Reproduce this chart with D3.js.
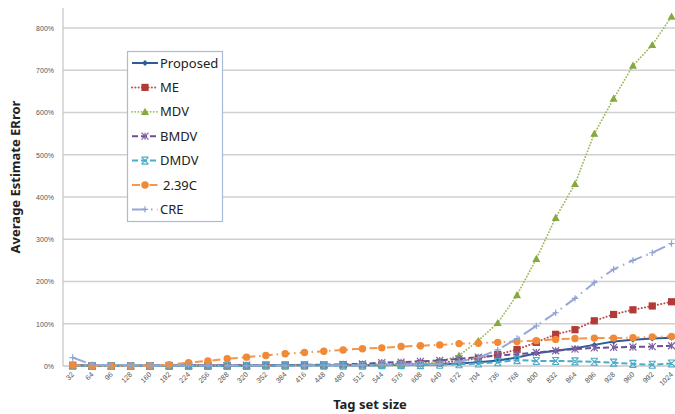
<!DOCTYPE html>
<html>
<head>
<meta charset="utf-8">
<script src="https://cdn.jsdelivr.net/npm/d3@7"></script>
<style>
  body { margin: 0; background: #fff; }
  svg { display: block; }
</style>
</head>
<body>
<script>
const width = 675;
const height = 414;

const tagSizes = [32, 64, 96, 128, 160, 192, 224, 256, 288, 320, 352, 384, 416, 448, 480, 512,
  544, 576, 608, 640, 672, 704, 736, 768, 800, 832, 864, 896, 928, 960, 992, 1024];

const yTicks = [0, 100, 200, 300, 400, 500, 600, 700, 800];

const seriesNames = ["Proposed", "ME", "MDV", "BMDV", "DMDV", "2.39C", "CRE"];

const proposed = [2, 1, 1, 1, 1, 1, 1, 1, 1, 1, 1, 2, 2, 2, 2, 2, 2, 3, 3, 4, 6, 9, 13, 20, 30, 36, 42, 50, 58, 62, 65, 67];
const me = [1, 0, 0, 0, 0, 1, 1, 1, 1, 1, 2, 2, 2, 2, 3, 3, 4, 5, 6, 8, 12, 18, 27, 39, 56, 75, 86, 107, 122, 133, 142, 152];
const mdv = [1, 0, 0, 0, 0, 1, 1, 1, 1, 1, 1, 1, 2, 2, 2, 2, 3, 4, 5, 10, 25, 60, 102, 168, 254, 351, 431, 550, 633, 711, 760, 827];
const bmdv = [1, 0, 0, 0, 1, 1, 1, 1, 1, 2, 2, 2, 3, 3, 4, 5, 8, 9, 11, 13, 17, 21, 25, 28, 32, 36, 40, 43, 44, 45, 46, 48];
const dmdv = [1, 0, 0, 0, 0, 0, 0, 0, 0, 0, 1, 1, 1, 1, 1, 1, 2, 2, 2, 3, 4, 6, 9, 14, 12, 12, 11, 10, 8, 5, 3, 6];
const c239 = [2, 0, 0, 0, 1, 3, 8, 12, 17, 21, 25, 29, 32, 35, 38, 41, 43, 46, 48, 50, 53, 54, 56, 58, 60, 63, 65, 66, 66, 67, 69, 70];
const cre = [20, 3, 1, 1, 1, 1, 1, 1, 1, 1, 1, 1, 1, 2, 2, 2, 3, 3, 4, 5, 10, 20, 38, 65, 95, 126, 160, 197, 229, 250, 268, 290];

const seriesValues = [proposed, me, mdv, bmdv, dmdv, c239, cre];

const styles = {
  "Proposed": { color: "#2f5b9a", dash: null, width: 2, marker: "diamond", mcolor: "#2f5b9a", msize: 3 },
  "ME": { color: "#c0504d", dash: "0.1 3.2", width: 2, marker: "square", mcolor: "#b23a37", msize: 3.6 },
  "MDV": { color: "#9bbb59", dash: "0.1 3", width: 1.8, marker: "triangle", mcolor: "#86a83c", msize: 4 },
  "BMDV": { color: "#6a4f96", dash: "6 3", width: 2, marker: "star", mcolor: "#8064a2", msize: 3.5 },
  "DMDV": { color: "#4aacc6", dash: "6 3", width: 2, marker: "ibeam", mcolor: "#4aacc6", msize: 3.5 },
  "2.39C": { color: "#f79646", dash: "8 4 1.5 4", width: 2, marker: "circle", mcolor: "#f08a36", msize: 3.7 },
  "CRE": { color: "#95a8d8", dash: "14 5 1.5 5", width: 2, marker: "plus", mcolor: "#8ea2d4", msize: 3.2 }
};

const margin = { left: 63, top: 8, bottom: 366 };
const band = 19.32;

const x = d3.scaleBand()
  .domain(tagSizes)
  .range([margin.left, margin.left + band * tagSizes.length])
  .padding(0);

const y = d3.scaleLinear()
  .domain([0, 848])
  .range([margin.bottom, margin.bottom - 848 * 0.4225]);

const svg = d3.select("body")
  .append("svg")
  .attr("width", width)
  .attr("height", height)
  .attr("font-family", "'Noto Sans', 'Open Sans', sans-serif");

// gridlines
svg.append("g")
  .selectAll("line")
  .data(yTicks.slice(1))
  .join("line")
  .attr("x1", margin.left)
  .attr("x2", width)
  .attr("y1", d => y(d))
  .attr("y2", d => y(d))
  .attr("stroke", "#d0d0d0")
  .attr("stroke-width", 1.4);

// y axis
const yAxis = svg.append("g")
  .attr("transform", `translate(${margin.left},0)`)
  .call(d3.axisLeft(y).tickValues(yTicks).tickSize(0).tickPadding(9).tickFormat(d => d + "%"));
yAxis.select(".domain").attr("stroke", "#c8c8c8").attr("stroke-width", 1.3)
  .attr("d", `M0,${margin.top}V${margin.bottom}`);
yAxis.selectAll("text")
  .attr("font-size", "7px")
  .attr("fill", "#555")
  .attr("font-family", "'Liberation Sans Narrow', 'Liberation Sans', sans-serif");

// x axis
const xAxis = svg.append("g")
  .attr("transform", `translate(0,${margin.bottom})`)
  .call(d3.axisBottom(x).tickSize(0).tickPadding(0));
xAxis.select(".domain").attr("stroke", "#c8c8c8").attr("stroke-width", 1.3)
  .attr("d", `M${margin.left},0H${width}`);
xAxis.selectAll("text")
  .attr("font-size", "7.2px")
  .attr("fill", "#555")
  .attr("font-family", "'Liberation Sans Narrow', 'Liberation Sans', sans-serif")
  .attr("text-anchor", "end")
  .attr("dy", null)
  .attr("y", 0)
  .attr("transform", "translate(2,9) rotate(-45)");

// axis titles
svg.append("text")
  .attr("transform", `translate(20,177) rotate(-90)`)
  .attr("text-anchor", "middle")
  .attr("font-size", "13px")
  .attr("font-weight", "bold")
  .attr("fill", "#222")
  .text("Average Estimate ERror");

svg.append("text")
  .attr("x", 370)
  .attr("y", 409)
  .attr("text-anchor", "middle")
  .attr("font-size", "13px")
  .attr("font-weight", "bold")
  .attr("fill", "#222")
  .text("Tag set size");

function drawMarker(g, type, s, color) {
  if (type === "diamond") {
    g.append("path").attr("d", `M0,${-s}L${s},0L0,${s}L${-s},0Z`).attr("fill", color);
  } else if (type === "square") {
    g.append("rect").attr("x", -s).attr("y", -s).attr("width", 2 * s).attr("height", 2 * s).attr("fill", color);
  } else if (type === "triangle") {
    g.append("path").attr("d", `M0,${-s}L${s},${s * 0.8}L${-s},${s * 0.8}Z`).attr("fill", color);
  } else if (type === "circle") {
    g.append("circle").attr("r", s).attr("fill", color);
  } else if (type === "star") {
    g.append("path").attr("d", `M${-s},${-s}L${s},${s}M${-s},${s}L${s},${-s}M0,${-s}V${s}`)
      .attr("stroke", color).attr("stroke-width", 1.2).attr("fill", "none");
  } else if (type === "ibeam") {
    g.append("path").attr("d", `M${-s},${-s}L${s},${s}M${-s},${s}L${s},${-s}M${-s},${-s}H${s}M${-s},${s}H${s}`)
      .attr("stroke", color).attr("stroke-width", 1.1).attr("fill", "none");
  } else if (type === "plus") {
    g.append("path").attr("d", `M${-s},0H${s}M0,${-s}V${s}`)
      .attr("stroke", color).attr("stroke-width", 1.2).attr("fill", "none");
  }
}

const line = d3.line()
  .x((d, i) => x(tagSizes[i]) + x.bandwidth() / 2)
  .y(d => y(d));

seriesNames.forEach((name, k) => {
  const st = styles[name];
  const vals = seriesValues[k];
  const g = svg.append("g");
  g.append("path")
    .datum(vals)
    .attr("d", line)
    .attr("fill", "none")
    .attr("stroke", st.color)
    .attr("stroke-width", st.width)
    .attr("stroke-linecap", st.dash && st.dash.startsWith("0.1") ? "round" : "butt")
    .attr("stroke-dasharray", st.dash);
  vals.forEach((v, i) => {
    const m = g.append("g")
      .attr("transform", `translate(${x(tagSizes[i]) + x.bandwidth() / 2},${y(v)})`);
    drawMarker(m, st.marker, st.msize, st.mcolor);
  });
});

// legend
const legend = svg.append("g");
legend.append("rect")
  .attr("x", 127.5)
  .attr("y", 51.5)
  .attr("width", 95)
  .attr("height", 170)
  .attr("fill", "#fff")
  .attr("stroke", "#a9bbdc")
  .attr("stroke-width", 1.2);

seriesNames.forEach((name, k) => {
  const st = styles[name];
  const cy = 63 + k * 24.4;
  const item = legend.append("g");
  item.append("line")
    .attr("x1", 132).attr("x2", 158)
    .attr("y1", cy).attr("y2", cy)
    .attr("stroke", st.color)
    .attr("stroke-width", st.width)
    .attr("stroke-linecap", st.dash && st.dash.startsWith("0.1") ? "round" : "butt")
    .attr("stroke-dasharray", st.dash);
  const m = item.append("g").attr("transform", `translate(145,${cy})`);
  drawMarker(m, st.marker, st.msize, st.mcolor);
  item.append("text")
    .attr("x", name === "2.39C" ? 163 : 160)
    .attr("y", cy + 4.5)
    .attr("font-size", "13px")
    .attr("fill", "#222")
    .text(name);
});
</script>
</body>
</html>
